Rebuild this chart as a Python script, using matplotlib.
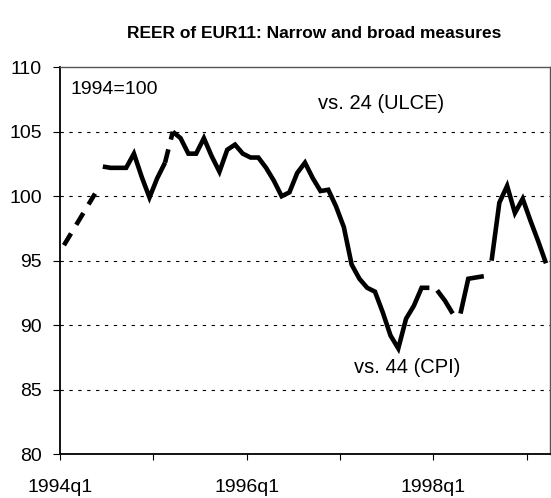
import numpy as np
import matplotlib.pyplot as plt

plt.rcParams['font.family'] = ['Liberation Sans', 'DejaVu Sans']

# monthly REER index, 1994m1 .. 1999m3 (1994=100)
reer = [96.2, 97.2, 98.2, 99.2, 100.2, 102.3, 102.2, 102.2, 102.2, 103.3,
        101.5, 99.9, 101.4, 102.6, 105.0, 104.5, 103.3, 103.3, 104.5, 103.1,
        101.9, 103.6, 104.0, 103.3, 103.0, 103.0, 102.2, 101.2, 100.0, 100.3,
        101.8, 102.6, 101.4, 100.4, 100.5, 99.2, 97.6, 94.7, 93.6, 92.9,
        92.6, 91.0, 89.2, 88.2, 90.5, 91.5, 92.9, 92.9, 92.7, 91.9,
        90.9, 90.9, 93.6, 93.7, 93.8, 95.0, 99.5, 100.8, 98.7, 99.8,
        98.1, 96.5, 94.8]
months = np.arange(len(reer))

# where the printed line is broken (segment i -> i+1 missing) or dashed
breaks = [4, 47, 50, 54]
dashed_spans = [(0, 4), (13, 14)]

tick_years = ['1994q1', '1996q1', '1998q1']
yticks = [80, 85, 90, 95, 100, 105, 110]

fig = plt.figure(figsize=(5.51, 4.98), dpi=100)
ax = fig.add_axes([0.109, 0.088, 0.889, 0.777])

vals = np.array(reer)


def seg_style(i):
    if i in breaks:
        return None
    return 'dash' if any(a <= i < b for a, b in dashed_spans) else 'solid'


# group consecutive segments of the same style into runs
runs = []
for i in range(len(reer) - 1):
    st = seg_style(i)
    if runs and runs[-1][2] == st and runs[-1][1] == i:
        runs[-1][1] = i + 1
    else:
        runs.append([i, i + 1, st])

for s, e, st in runs:
    if st is None:
        continue
    if st == 'dash':
        ax.plot(months[s:e + 1], vals[s:e + 1], color='black', lw=3.3,
                linestyle=(0, (3.0, 2.2)), dash_capstyle='butt')
    else:
        ax.plot(months[s:e + 1], vals[s:e + 1], color='black', lw=3.3,
                solid_capstyle='butt', solid_joinstyle='miter')

ax.set_xlim(-0.5, len(reer) - 0.5)
ax.set_ylim(80, 110)
ax.set_yticks(yticks)
ax.set_yticklabels([str(v) for v in yticks], fontsize=14)

major = np.arange(-0.5, len(reer), 12)
ax.set_xticks(major)
ax.set_xticklabels([tick_years[k // 2] if k % 2 == 0 else '' for k in range(len(major))],
                   fontsize=14)
ax.tick_params(axis='x', length=4, pad=14, direction='out')
ax.tick_params(axis='y', length=5, pad=8, direction='out')

for v in yticks[1:-1]:
    ax.axhline(v, color='black', lw=0.8, linestyle=(0, (3, 5)), zorder=0)

for side in ['left', 'bottom']:
    ax.spines[side].set_linewidth(1.3)
for side in ['top', 'right']:
    ax.spines[side].set_color('#555555')
    ax.spines[side].set_linewidth(1)

ax.text(0.8, 108.3, '1994=100', fontsize=14, ha='left', va='center')
ax.text(40.8, 107.2, 'vs. 24 (ULCE)', fontsize=14.5, ha='center', va='center')
ax.text(44.2, 86.7, 'vs. 44 (CPI)', fontsize=14.5, ha='center', va='center')

fig.text(0.57, 0.932, 'REER of EUR11: Narrow and broad measures',
         fontsize=12.5, fontweight='bold', ha='center', va='center')

fig.savefig('out.png', dpi=100)
